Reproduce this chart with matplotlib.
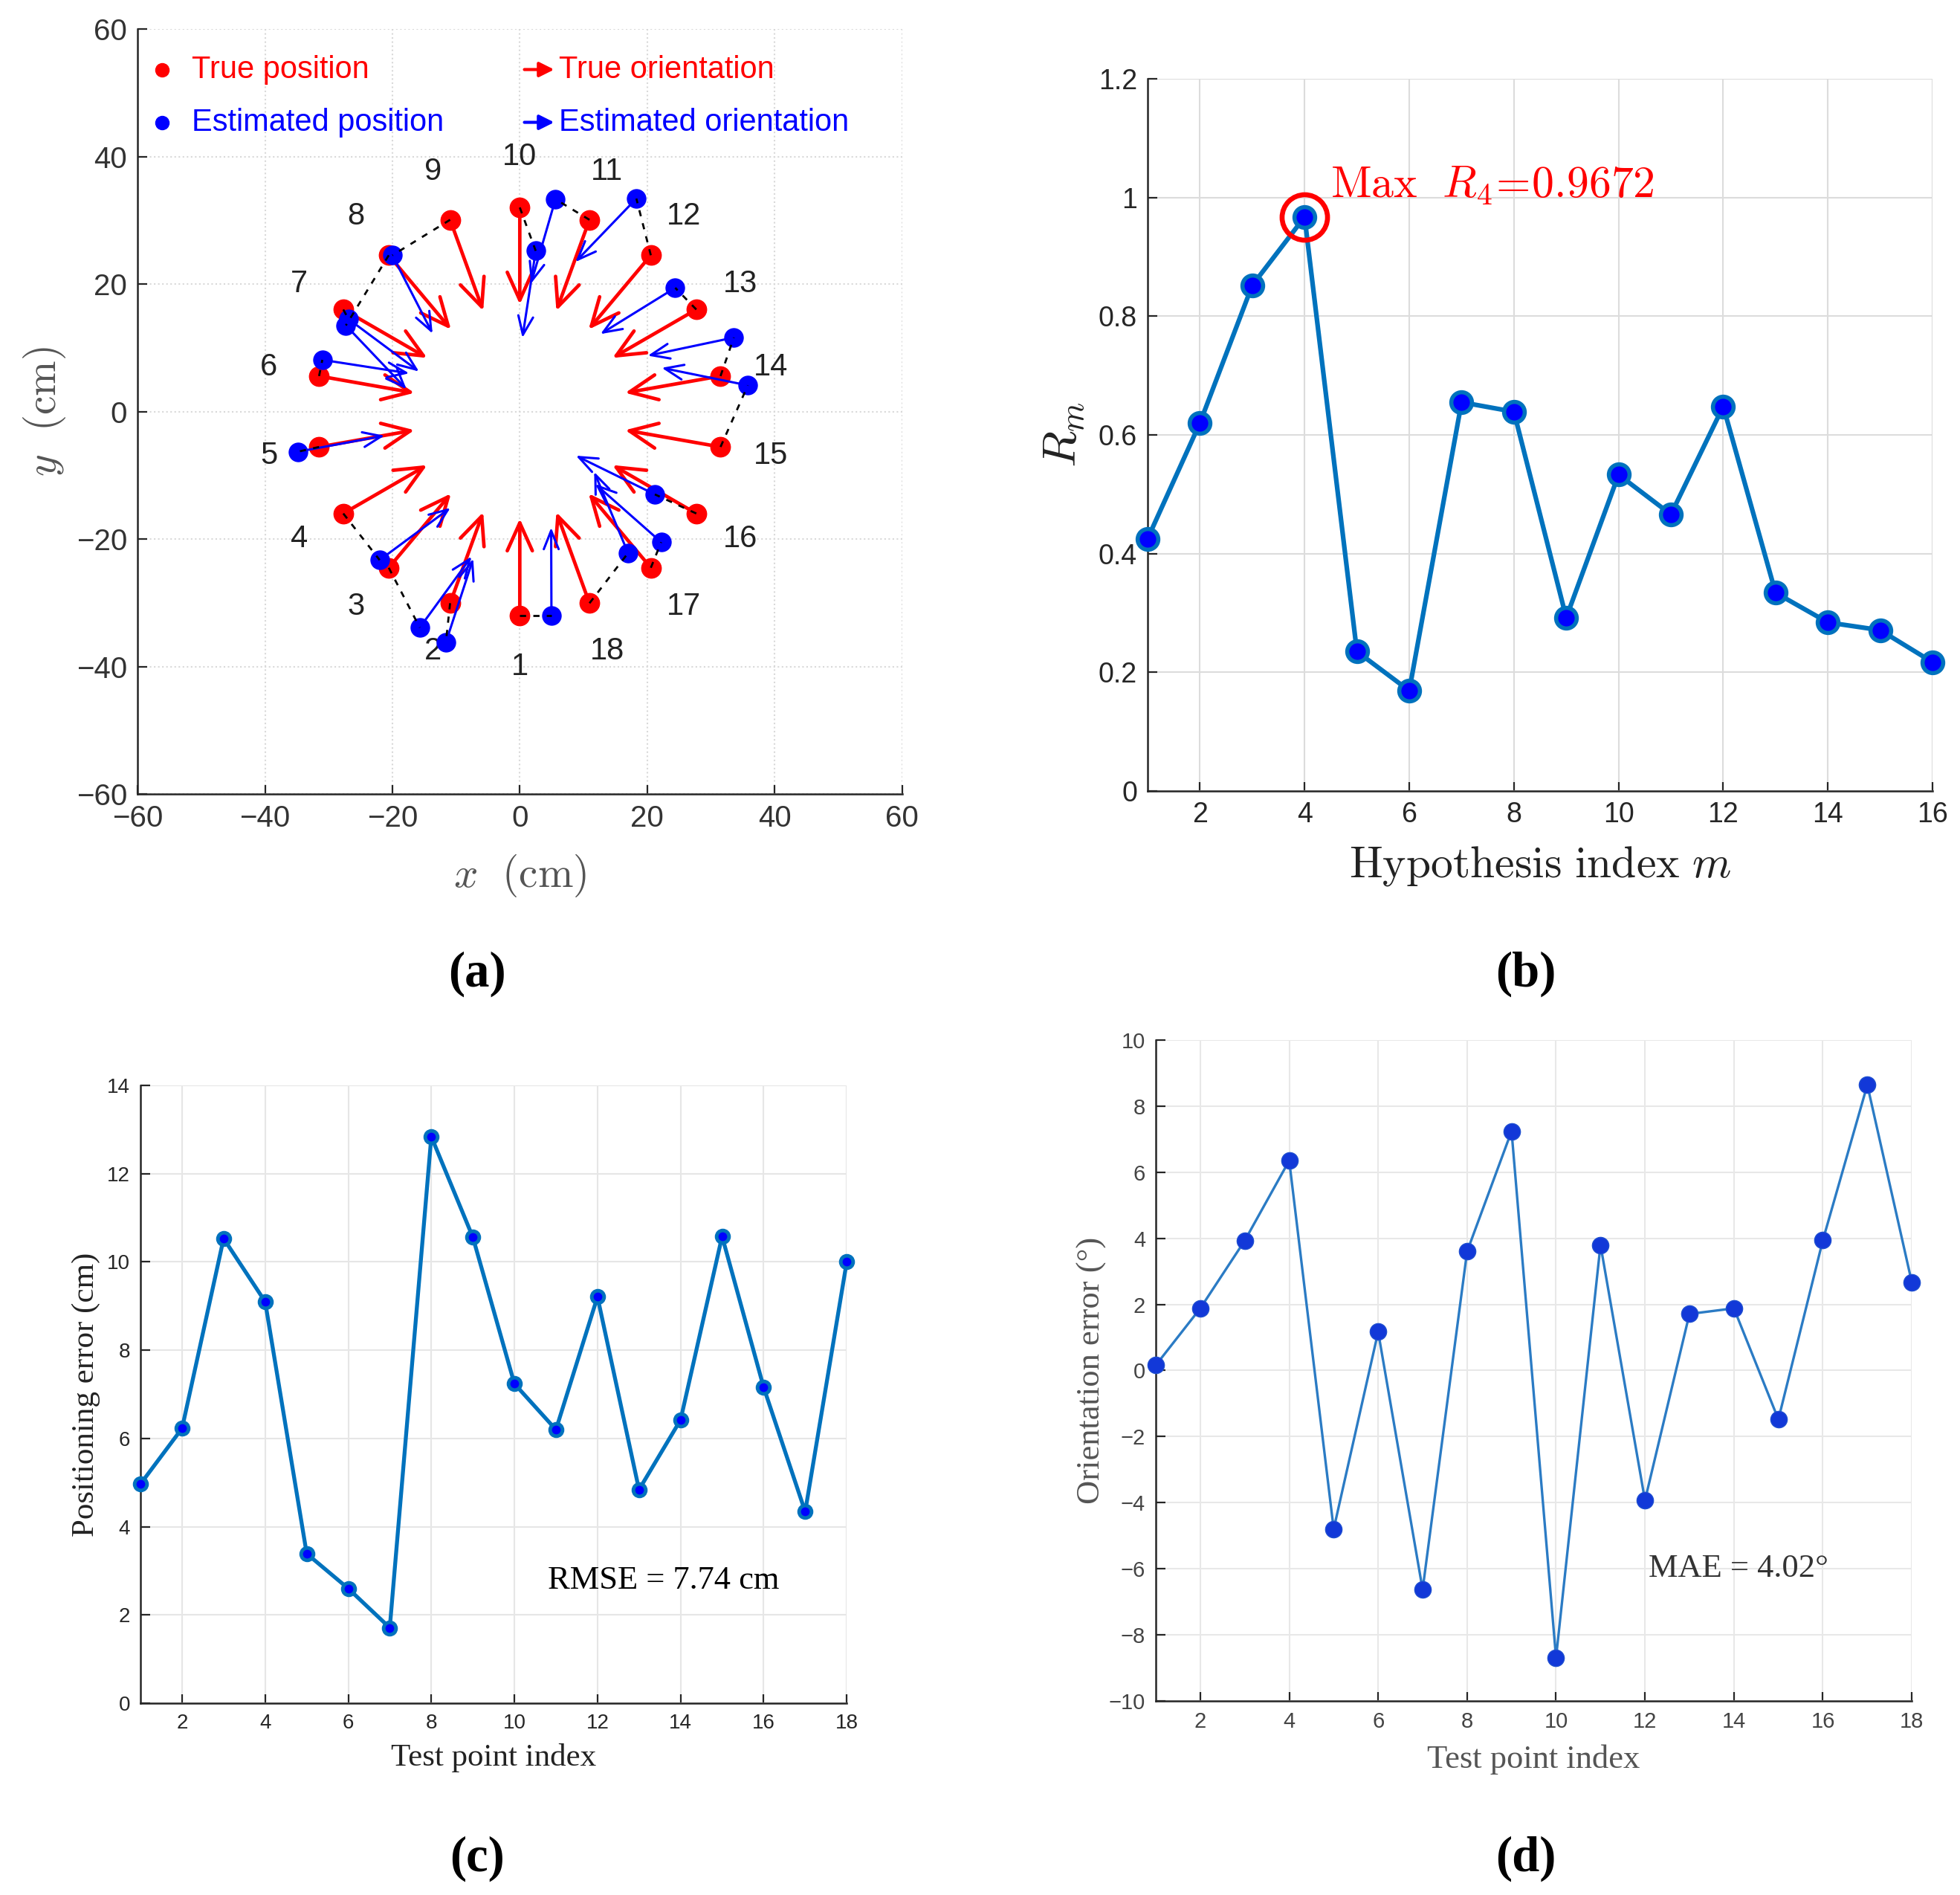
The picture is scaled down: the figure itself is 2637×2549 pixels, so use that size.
import numpy as np
import matplotlib.pyplot as plt

plt.rcParams['font.family'] = ['Liberation Sans', 'DejaVu Sans']
plt.rcParams['mathtext.fontset'] = 'cm'

# ---- panel (a): test points ----
point_ids = list(range(1, 19))
true_x = [0.0, -10.94, -20.57, -27.71, -31.51, -31.51, -27.71, -20.57, -10.94,
          0.0, 10.94, 20.57, 27.71, 31.51, 31.51, 27.71, 20.57, 10.94]
true_y = [-32.0, -30.07, -24.51, -16.0, -5.56, 5.56, 16.0, 24.51, 30.07,
          32.0, 30.07, 24.51, 16.0, 5.56, -5.56, -16.0, -24.51, -30.07]
est_x = [4.97, -11.6, -15.7, -22.0, -34.8, -31.0, -26.9, -27.3, -20.0,
         2.5, 5.6, 18.3, 24.4, 33.6, 35.8, 21.2, 22.2, 17.0]
est_y = [-32.0, -36.2, -33.9, -23.3, -6.3, 8.1, 14.5, 13.5, 24.5,
         25.2, 33.3, 33.4, 19.4, 11.6, 4.1, -13.0, -20.5, -22.2]
true_heading = [90, 70, 50, 30, 10, -10, -30, -50, -70,
                -90, -110, -130, -150, -170, 170, 150, 130, 110]
est_heading = [90.2, 71.9, 53.9, 36.4, 10.5, -8.8, -36.6, -46.4, -62.8,
               -98.7, -106.2, -133.9, -148.3, -168.1, 168.5, 153.9, 138.6, 112.7]

# ---- panel (b): hypothesis scores ----
hyp_index = list(range(1, 17))
r_m = [0.425, 0.620, 0.852, 0.9672, 0.235, 0.169, 0.655, 0.639,
       0.292, 0.533, 0.466, 0.648, 0.334, 0.284, 0.271, 0.217]

# ---- panels (c), (d): errors per test point ----
pos_err = [4.97, 6.23, 10.53, 9.10, 3.39, 2.60, 1.71, 12.84, 10.56,
           7.24, 6.20, 9.21, 4.84, 6.42, 10.58, 7.16, 4.34, 10.00]
ori_err = [0.16, 1.88, 3.93, 6.35, -4.80, 1.17, -6.63, 3.60, 7.24,
           -8.69, 3.80, -3.93, 1.71, 1.88, -1.48, 3.94, 8.64, 2.67]

RED = '#ff0000'
BLUE = '#0000ff'
MBLUE = '#0072bd'
TXT = '#262626'


def arrow(ax, x0, y0, heading, length, color, lw, scale, hl, hw):
    h = np.deg2rad(heading)
    x1 = x0 + length * np.cos(h)
    y1 = y0 + length * np.sin(h)
    ax.annotate('', xy=(x1, y1), xytext=(x0, y0),
                arrowprops=dict(arrowstyle='->,head_length=%g,head_width=%g' % (hl, hw),
                                color=color, lw=lw, shrinkA=0, shrinkB=0,
                                mutation_scale=scale))


def style_axes(ax, grid_color, grid_ls='-', tick_size=26, tick_color=TXT):
    for s in ['top', 'right']:
        ax.spines[s].set_visible(False)
    for s in ['left', 'bottom']:
        ax.spines[s].set_color(TXT)
        ax.spines[s].set_linewidth(1.8)
    ax.tick_params(direction='in', length=9, width=1.6, labelsize=tick_size,
                   colors=TXT, labelcolor=tick_color, pad=10)
    ax.grid(True, color=grid_color, linestyle=grid_ls, linewidth=1.5)
    ax.set_axisbelow(True)


fig = plt.figure(figsize=(26.37, 25.49), dpi=100)

# ================= (a) =================
ax = fig.add_axes([0.0702, 0.581, 0.390, 0.4037])
style_axes(ax, '#d9d9d9', ':', tick_size=29, tick_color='#333333')
ax.set_xlim(-60, 60)
ax.set_ylim(-60, 60)
ax.set_xticks(range(-60, 61, 20))
ax.set_yticks(range(-60, 61, 20))

ax.plot(true_x, true_y, 'o', color=RED, ms=19, zorder=3)
for i in range(18):
    arrow(ax, true_x[i], true_y[i], true_heading[i], 15.2, RED, 3.4, 27, 1.0, 0.45)
ax.plot(est_x, est_y, 'o', color=BLUE, ms=18, zorder=4)
for i in range(18):
    arrow(ax, est_x[i], est_y[i], est_heading[i], 13.8, BLUE, 2.2, 18, 1.0, 0.4)
for i in range(18):
    ax.plot([true_x[i], est_x[i]], [true_y[i], est_y[i]], color='black',
            lw=2.0, linestyle=(0, (3, 3.5)), zorder=5)
for i, pid in enumerate(point_ids):
    ax.text(1.25 * true_x[i], 1.25 * true_y[i], str(pid), ha='center', va='center',
            fontsize=30, color='#222222')

# legend drawn by hand
ax.plot([0.032], [0.947], 'o', color=RED, ms=13, transform=ax.transAxes, clip_on=False)
ax.plot([0.032], [0.878], 'o', color=BLUE, ms=13, transform=ax.transAxes, clip_on=False)
ax.text(0.071, 0.947, 'True position', color=RED, fontsize=30, va='center',
        transform=ax.transAxes)
ax.text(0.071, 0.878, 'Estimated position', color=BLUE, fontsize=30, va='center',
        transform=ax.transAxes)
for yy, col in [(0.947, RED), (0.878, BLUE)]:
    ax.annotate('', xy=(0.545, yy), xytext=(0.506, yy), xycoords='axes fraction',
                arrowprops=dict(arrowstyle='-|>,head_length=0.6,head_width=0.3',
                                color=col, lw=3, shrinkA=0, shrinkB=0, mutation_scale=20))
ax.text(0.551, 0.947, 'True orientation', color=RED, fontsize=30, va='center',
        transform=ax.transAxes)
ax.text(0.551, 0.878, 'Estimated orientation', color=BLUE, fontsize=30, va='center',
        transform=ax.transAxes)

ax.set_xlabel(r'$x\ \ (\mathrm{cm})$', fontsize=41, color='#555555')
ax.set_ylabel(r'$y\ \ (\mathrm{cm})$', fontsize=41, color='#555555')
ax.xaxis.set_label_coords(0.5, -0.107)
ax.yaxis.set_label_coords(-0.122, 0.5)
ax.xaxis.label.set_va('center')
ax.yaxis.label.set_va('center')

# ================= (b) =================
ax = fig.add_axes([0.5855, 0.5826, 0.4005, 0.3758])
style_axes(ax, '#dcdcdc', '-', tick_size=27)
ax.plot(hyp_index, r_m, '-o', color=MBLUE, lw=4.5, mfc=BLUE, mec=MBLUE,
        ms=20, mew=4, clip_on=False, zorder=3)
ax.plot(hyp_index[3], r_m[3], 'o', mfc='none', mec=RED, ms=44, mew=4.8,
        clip_on=False, zorder=4)
ax.text(4.5, 1.02, r'$\mathrm{Max}\ \ R_4\!=\!0.9672$', color=RED, fontsize=43,
        va='center', ha='left')
ax.set_xlim(1, 16)
ax.set_ylim(0, 1.2)
ax.set_xticks(range(2, 17, 2))
ax.set_yticks([0, 0.2, 0.4, 0.6, 0.8, 1.0, 1.2])
ax.set_yticklabels(['0', '0.2', '0.4', '0.6', '0.8', '1', '1.2'])
ax.set_xlabel(r'$\mathrm{Hypothesis\ index}\ m$', fontsize=43, color='#222222')
ax.set_ylabel(r'$R_m$', fontsize=46, color='#222222')
ax.xaxis.set_label_coords(0.5, -0.106)
ax.yaxis.set_label_coords(-0.105, 0.5)
ax.xaxis.label.set_va('center')
ax.yaxis.label.set_va('center')

# ================= (c) =================
ax = fig.add_axes([0.0717, 0.1012, 0.3603, 0.326])
style_axes(ax, '#e6e6e6', '-', tick_size=20)
ax.plot(point_ids, pos_err, '-o', color=MBLUE, lw=3.8, mfc=BLUE, mec=MBLUE,
        ms=12, mew=3.5, clip_on=False, zorder=3)
ax.set_xlim(1, 18)
ax.set_ylim(0, 14)
ax.set_xticks(range(2, 19, 2))
ax.set_yticks(range(0, 15, 2))
ax.text(10.8, 2.78, 'RMSE = 7.74 cm', fontsize=32, family='Liberation Serif',
        va='center', ha='left', color='black')
ax.set_xlabel('Test point index', fontsize=31, family='Liberation Serif', color='#222222')
ax.set_ylabel('Positioning error (cm)', fontsize=31, family='Liberation Serif', color='#222222')
ax.xaxis.set_label_coords(0.5, -0.089)
ax.yaxis.set_label_coords(-0.077, 0.5)
ax.xaxis.label.set_va('center')
ax.yaxis.label.set_va('center')

# ================= (d) =================
ax = fig.add_axes([0.5897, 0.1024, 0.3857, 0.3488])
style_axes(ax, '#e8e8e8', '-', tick_size=21, tick_color='#444444')
ax.plot(point_ids, ori_err, '-o', color='#2b7bc4', lw=2.4, mfc='#1238d8',
        mec='#1f4fd0', ms=16, mew=1, clip_on=False, zorder=3)
ax.set_xlim(1, 18)
ax.set_ylim(-10, 10)
ax.set_xticks(range(2, 19, 2))
ax.set_yticks(range(-10, 11, 2))
ax.text(12.08, -6.0, 'MAE = 4.02°', fontsize=32, family='Liberation Serif',
        va='center', ha='left', color='#333333')
ax.set_xlabel('Test point index', fontsize=32, family='Liberation Serif', color='#555555')
ax.set_ylabel('Orientation error (°)', fontsize=32, family='Liberation Serif', color='#555555')
ax.xaxis.set_label_coords(0.5, -0.089)
ax.yaxis.set_label_coords(-0.085, 0.5)
ax.xaxis.label.set_va('center')
ax.yaxis.label.set_va('center')

# panel tags
for tag, x, y in [('(a)', 0.2435, 0.486), ('(b)', 0.7785, 0.486),
                  ('(c)', 0.2435, 0.019), ('(d)', 0.7785, 0.019)]:
    fig.text(x, y, tag, fontsize=48, family='Liberation Serif', weight='bold',
             ha='center', va='center', color='black')

fig.savefig('out.png', dpi=100, facecolor='white')
